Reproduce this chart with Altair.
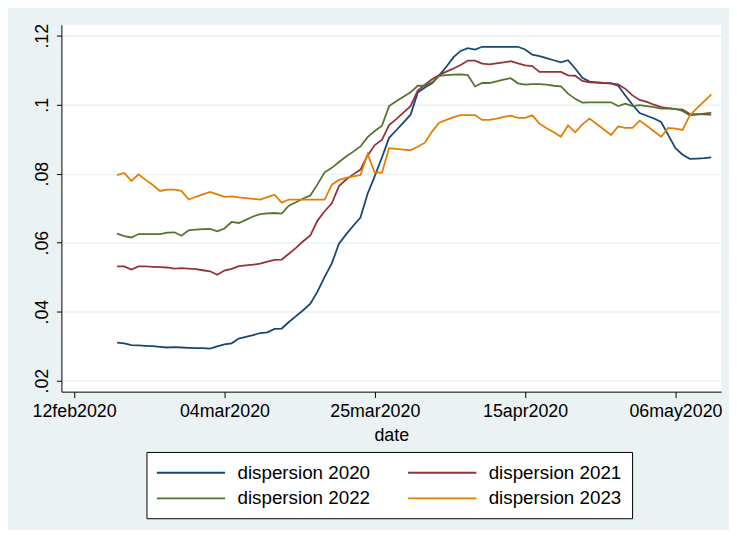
import altair as alt
import pandas as pd

# daily observations, 18feb2020 .. 11may2020
dates = pd.date_range("2020-02-18", "2020-05-11", freq="D").strftime("%Y-%m-%d").tolist()

disp_2020 = [
    0.0310, 0.0308, 0.0303, 0.0302, 0.0301, 0.0300, 0.0298, 0.0296, 0.0297, 0.0296,
    0.0295, 0.0294, 0.0294, 0.0293, 0.0299, 0.0305, 0.0308, 0.0322, 0.0327, 0.0332,
    0.0338, 0.0340, 0.0350, 0.0351, 0.0370, 0.0387, 0.0404, 0.0423, 0.0458, 0.0501,
    0.0540, 0.0597, 0.0624, 0.0649, 0.0673, 0.0742, 0.0793, 0.0847, 0.0904, 0.0926,
    0.0948, 0.0971, 0.1035, 0.1050, 0.1062, 0.1085, 0.1110, 0.1138, 0.1156, 0.1164,
    0.1160, 0.1168, 0.1168, 0.1168, 0.1168, 0.1168, 0.1168, 0.1160, 0.1145, 0.1141,
    0.1135, 0.1129, 0.1123, 0.1129, 0.1105, 0.1078, 0.1067, 0.1065, 0.1063, 0.1062,
    0.1055, 0.1027, 0.1000, 0.0976, 0.0968, 0.0960, 0.0950, 0.0912, 0.0874, 0.0855,
    0.0843, 0.0844, 0.0845, 0.0847,
]
disp_2021 = [
    0.0531, 0.0531, 0.0522, 0.0531, 0.0531, 0.0530, 0.0529, 0.0528, 0.0525, 0.0526,
    0.0525, 0.0523, 0.0520, 0.0517, 0.0507, 0.0519, 0.0524, 0.0532, 0.0534, 0.0536,
    0.0539, 0.0545, 0.0550, 0.0551, 0.0568, 0.0585, 0.0604, 0.0621, 0.0664, 0.0691,
    0.0714, 0.0764, 0.0783, 0.0798, 0.0812, 0.0853, 0.0883, 0.0898, 0.0941, 0.0958,
    0.0977, 0.0996, 0.1041, 0.1058, 0.1074, 0.1086, 0.1096, 0.1105, 0.1115, 0.1128,
    0.1128, 0.1119, 0.1117, 0.1120, 0.1123, 0.1126, 0.1120, 0.1114, 0.1112, 0.1095,
    0.1095, 0.1095, 0.1095, 0.1085, 0.1084, 0.1069, 0.1065, 0.1064, 0.1063, 0.1062,
    0.1059, 0.1046, 0.1027, 0.1014, 0.1008, 0.1000, 0.0993, 0.0990, 0.0987, 0.0986,
    0.0973, 0.0973, 0.0972, 0.0971,
]
disp_2022 = [
    0.0626, 0.0619, 0.0615, 0.0625, 0.0625, 0.0625, 0.0625, 0.0629, 0.0630, 0.0620,
    0.0636, 0.0638, 0.0639, 0.0640, 0.0633, 0.0641, 0.0660, 0.0657, 0.0666, 0.0676,
    0.0683, 0.0685, 0.0686, 0.0684, 0.0707, 0.0717, 0.0728, 0.0737, 0.0769, 0.0804,
    0.0817, 0.0834, 0.0850, 0.0864, 0.0879, 0.0906, 0.0924, 0.0939, 0.0996, 0.1010,
    0.1023, 0.1036, 0.1055, 0.1055, 0.1065, 0.1084, 0.1086, 0.1087, 0.1088, 0.1086,
    0.1053, 0.1063, 0.1063, 0.1068, 0.1073, 0.1077, 0.1062, 0.1058, 0.1060, 0.1060,
    0.1058, 0.1055, 0.1053, 0.1032, 0.1017, 0.1006, 0.1007, 0.1007, 0.1007, 0.1007,
    0.0996, 0.1003, 0.0996, 0.0999, 0.0996, 0.0993, 0.0989, 0.0989, 0.0988, 0.0982,
    0.0969, 0.0971, 0.0974, 0.0977,
]
disp_2023 = [
    0.0796, 0.0802, 0.0779, 0.0798, 0.0782, 0.0767, 0.0750, 0.0754, 0.0754, 0.0750,
    0.0725, 0.0733, 0.0740, 0.0747, 0.0740, 0.0733, 0.0734, 0.0731, 0.0729, 0.0727,
    0.0725, 0.0732, 0.0739, 0.0716, 0.0725, 0.0725, 0.0725, 0.0725, 0.0725, 0.0725,
    0.0768, 0.0782, 0.0788, 0.0792, 0.0796, 0.0857, 0.0803, 0.0803, 0.0874, 0.0872,
    0.0870, 0.0868, 0.0878, 0.0890, 0.0922, 0.0948, 0.0956, 0.0964, 0.0970, 0.0970,
    0.0970, 0.0956, 0.0956, 0.0960, 0.0965, 0.0968, 0.0962, 0.0962, 0.0969, 0.0945,
    0.0932, 0.0920, 0.0907, 0.0940, 0.0920, 0.0943, 0.0960, 0.0944, 0.0928, 0.0912,
    0.0937, 0.0933, 0.0933, 0.0954, 0.0939, 0.0923, 0.0907, 0.0933, 0.0931, 0.0927,
    0.0969, 0.0990, 0.1010, 0.1030,
]

series_names = ["dispersion 2020", "dispersion 2021", "dispersion 2022", "dispersion 2023"]
series_colors = ["#1a476f", "#90353b", "#55752f", "#e37e00"]

y_ticks = [0.02, 0.04, 0.06, 0.08, 0.10, 0.12]
x_tick_dates = ["2020-02-12", "2020-03-04", "2020-03-25", "2020-04-15", "2020-05-06"]

rows = []
for name, vals in zip(series_names, [disp_2020, disp_2021, disp_2022, disp_2023]):
    for d, v in zip(dates, vals):
        rows.append({"date": d, "value": v, "series": name})
df = pd.DataFrame(rows)


def ms(ts):
    return int(pd.Timestamp(ts, tz="UTC").timestamp() * 1000)


x_ticks_ms = [ms(d) for d in x_tick_dates]
x_domain = [ms(pd.Timestamp("2020-02-12") - pd.Timedelta(hours=42.5)),
            ms(pd.Timestamp("2020-02-12") + pd.Timedelta(hours=2169))]

FONT = "Liberation Sans"
BG = "#EAF2F3"

chart = (
    alt.Chart(df)
    .mark_line(strokeWidth=1.8)
    .encode(
        x=alt.X(
            "date:T",
            title="date",
            scale=alt.Scale(type="utc", domain=x_domain, nice=False),
            axis=alt.Axis(
                values=x_ticks_ms,
                labelExpr="lower(utcFormat(datum.value, '%d%b%Y'))",
                grid=False,
                tickSize=6,
                labelPadding=5,
                titlePadding=6,
            ),
        ),
        y=alt.Y(
            "value:Q",
            title=None,
            scale=alt.Scale(domain=[0.0168, 0.1232], nice=False, zero=False),
            axis=alt.Axis(
                values=y_ticks,
                labelExpr="substring(format(datum.value, '.2~f'), 1)",
                labelAngle=270,
                labelAlign="center",
                labelBaseline="alphabetic",
                labelPadding=9,
                tickSize=5,
                grid=True,
                gridColor=BG,
                gridWidth=1.6,
            ),
        ),
        color=alt.Color(
            "series:N",
            scale=alt.Scale(domain=series_names, range=series_colors),
            legend=alt.Legend(
                title=None,
                orient="none",
                direction="horizontal",
                legendX=86,
                legendY=432,
                columns=2,
                symbolType="M-3.45,0L3.45,0",
                symbolSize=400,
                symbolStrokeWidth=1.8,
                symbolOffset=24,
                labelFontSize=19,
                labelFont=FONT,
                labelColor="black",
                labelOffset=36,
                columnPadding=33,
                rowPadding=5,
                padding=10,
                strokeColor="black",
                fillColor="white",
            ),
        ),
    )
    .properties(
        width=667,
        height=371,
        background=BG,
        padding={"left": 54, "top": 14, "right": 8, "bottom": 137},
        autosize=alt.AutoSizeParams(type="none"),
    )
    .configure_view(fill="white", strokeWidth=0)
    .configure_axis(
        labelFont=FONT,
        titleFont=FONT,
        labelFontSize=18,
        titleFontSize=18,
        titleFontWeight="normal",
        labelColor="black",
        titleColor="black",
        domainColor="black",
        tickColor="black",
        domainWidth=1,
        tickWidth=1,
        labelLimit=0,
    )
)

chart.save("out.html", embed_options={"renderer": "svg", "actions": False})
